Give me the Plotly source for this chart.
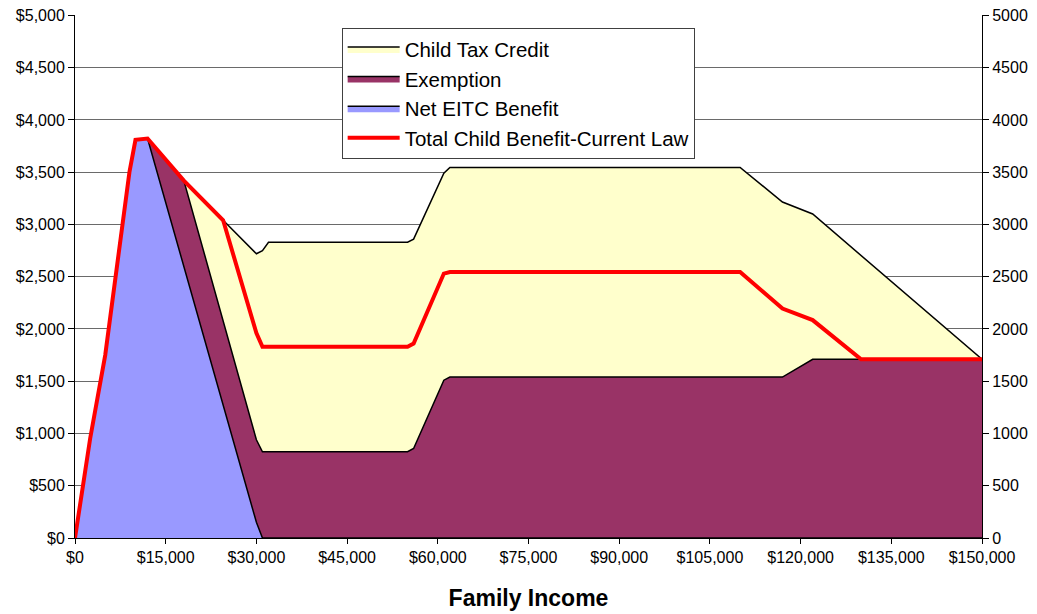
import plotly.graph_objects as go

# Top edge of each coloured area (dollars)
inc_ctc = [0, 2500, 5000, 7500, 9000, 10000, 12000, 18000, 24500, 30000, 31000, 32000,
           55000, 56000, 61000, 62000, 110000, 117000, 122000, 150000]
ctc_top = [0, 950, 1750, 2880, 3500, 3810, 3822, 3420, 3040, 2720, 2750, 2830,
           2830, 2860, 3490, 3545, 3545, 3215, 3100, 1710]

inc_ex = [0, 2500, 5000, 7500, 9000, 10000, 12000, 18000, 30000, 31000,
          55000, 56000, 61000, 62000, 117000, 122000, 150000]
ex_top = [0, 950, 1750, 2880, 3500, 3810, 3822, 3420, 940, 825,
          825, 857, 1510, 1540, 1540, 1710, 1710]

inc_eitc = [0, 2500, 5000, 7500, 9000, 10000, 12000, 30000, 31000, 150000]
eitc = [0, 950, 1750, 2880, 3500, 3810, 3822, 150, 0, 0]

inc_total = [0, 2500, 5000, 7500, 9000, 10000, 12000, 18000, 24500, 30000, 31000,
             55000, 56000, 61000, 62000, 110000, 117000, 122000, 130000, 150000]
total = [0, 950, 1750, 2880, 3500, 3810, 3822, 3420, 3040, 1960, 1830,
         1830, 1860, 2530, 2545, 2545, 2195, 2085, 1710, 1710]

x_ticks = list(range(0, 150001, 15000))
y_ticks = list(range(0, 5001, 500))
x_labels = [f"${v:,}" for v in x_ticks]
y_labels = [f"${v:,}" for v in y_ticks]
y2_labels = [str(v) for v in y_ticks]

fig = go.Figure()
fig.add_trace(go.Scatter(x=inc_ctc, y=ctc_top, name="Child Tax Credit", mode="lines",
                         fill="tozeroy", fillcolor="#FFFFCC",
                         line=dict(color="black", width=1.5), legendgroup="a"))
fig.add_trace(go.Scatter(x=inc_ex, y=ex_top, name="Exemption", mode="lines",
                         fill="tozeroy", fillcolor="#993366",
                         line=dict(color="black", width=1.5), legendgroup="b"))
fig.add_trace(go.Scatter(x=inc_eitc, y=eitc, name="Net EITC Benefit", mode="lines",
                         fill="tozeroy", fillcolor="#9999FF",
                         line=dict(color="black", width=1.5), legendgroup="c"))
fig.add_trace(go.Scatter(x=inc_total, y=total, name="Total Child Benefit-Current Law",
                         mode="lines", line=dict(color="#FF0000", width=4), legendgroup="d"))
# invisible trace so the right-hand axis is drawn
fig.add_trace(go.Scatter(x=inc_total, y=total, yaxis="y2", mode="lines",
                         line=dict(width=0), showlegend=False, hoverinfo="skip"))

tick_font = dict(family="Liberation Sans, Arial", size=16, color="black")
# the page body has an 8px margin, so the figure is shrunk to fit the window
fig.update_layout(
    width=1029, height=606,
    margin=dict(l=67, r=55, t=7, b=76),
    paper_bgcolor="white", plot_bgcolor="white",
    font=dict(family="Liberation Sans, Arial", color="black"),
    xaxis=dict(range=[0, 150000], tickvals=x_ticks, ticktext=x_labels, automargin=False,
               showgrid=False, showline=True, linecolor="black", linewidth=1,
               ticks="outside", ticklen=5, tickcolor="black", tickfont=tick_font,
               zeroline=False, ticklabeloverflow="allow",
               title=dict(text="<b>Family Income</b>", font=dict(size=23), standoff=24)),
    yaxis=dict(range=[0, 5004], tickvals=y_ticks, ticktext=y_labels, automargin=False,
               showgrid=True, gridcolor="#6a6a6a", gridwidth=1,
               showline=True, linecolor="black", linewidth=1,
               ticks="outside", ticklen=6, tickcolor="black", tickfont=tick_font,
               zeroline=False, ticklabeloverflow="allow"),
    yaxis2=dict(range=[0, 5004], tickvals=y_ticks, ticktext=y2_labels, overlaying="y",
                side="right", showgrid=False, showline=True, linecolor="black",
                linewidth=1, ticks="outside", ticklen=6, tickcolor="black",
                tickfont=tick_font, zeroline=False, automargin=False,
                ticklabeloverflow="allow"),
    legend=dict(x=0.294, y=0.975, xanchor="left", yanchor="top",
                bgcolor="white", bordercolor="#404040", borderwidth=1,
                font=dict(size=20.5), tracegroupgap=0, traceorder="grouped",
                itemwidth=52),
    showlegend=True,
)

fig.write_html("out.html")
